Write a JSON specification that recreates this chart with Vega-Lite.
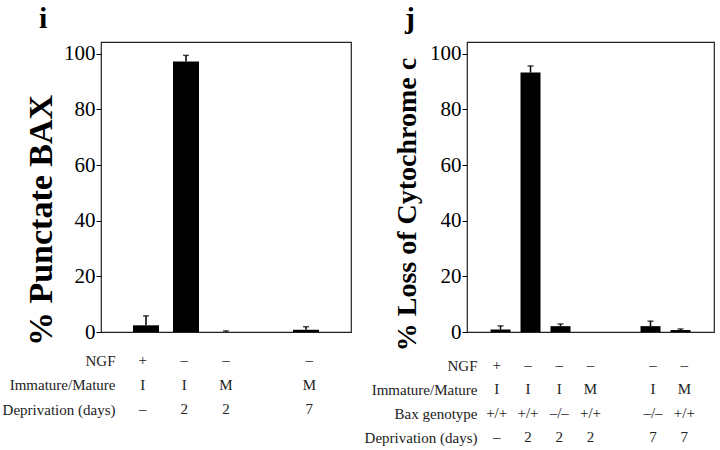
{
  "$schema": "https://vega.github.io/schema/vega-lite/v6.json",
  "padding": {"left": 2, "top": 3, "right": 0, "bottom": 0},
  "background": "white",
  "config": {
    "font": "Liberation Serif",
    "axis": {"grid": false, "labelColor": "black", "titleColor": "black", "tickColor": "black", "domain": false, "labelFont": "Liberation Serif", "titleFont": "Liberation Serif"},
    "text": {"font": "Liberation Serif"}
  },
  "spacing": 12,
  "hconcat": [
    {
      "spacing": 1,
      "vconcat": [
        {
          "width": 250,
          "height": 290,
          "view": {"stroke": "#222", "strokeWidth": 1.2},
          "title": {"text": "i", "font": "Liberation Serif", "fontSize": 30, "fontWeight": "bold", "anchor": "start", "frame": "group", "dx": -62, "offset": 8, "color": "black"},
          "data": {"values": [
            {"pos": 1, "v": 2.4, "u": 5.8},
            {"pos": 2, "v": 97.2, "u": 99.4},
            {"pos": 3, "v": 0, "u": 0.4},
            {"pos": 5, "v": 0.8, "u": 1.9}
          ]},
          "encoding": {
            "x": {"field": "pos", "type": "quantitative", "scale": {"domain": [0, 6], "nice": false, "zero": false}, "axis": null}
          },
          "layer": [
            {
              "mark": {"type": "bar", "width": 26, "color": "black"},
              "encoding": {
                "y": {"field": "v", "type": "quantitative", "scale": {"domain": [0, 104.2], "nice": false},
                  "axis": {"title": "% Punctate BAX", "titleFontSize": 34, "titleFontWeight": "bold", "titleFont": "Liberation Serif", "titlePadding": 5, "titleY": 178,
                    "values": [0, 20, 40, 60, 80, 100], "labelFont": "Liberation Serif", "labelFontSize": 21, "tickSize": 5, "labelPadding": 1}}
              }
            },
            {
              "mark": {"type": "rule", "color": "black", "strokeWidth": 1.5},
              "encoding": {"y": {"field": "v", "type": "quantitative"}, "y2": {"field": "u"}}
            },
            {
              "mark": {"type": "tick", "orient": "horizontal", "color": "black", "size": 6, "thickness": 1.5},
              "encoding": {"y": {"field": "u", "type": "quantitative"}}
            }
          ]
        },
        {
          "width": 250,
          "height": 73.5,
          "view": {"stroke": null},
          "data": {"values": [
            {"pos": 1, "row": "NGF", "t": "+"},
            {"pos": 2, "row": "NGF", "t": "–"},
            {"pos": 3, "row": "NGF", "t": "–"},
            {"pos": 5, "row": "NGF", "t": "–"},
            {"pos": 1, "row": "Immature/Mature", "t": "I"},
            {"pos": 2, "row": "Immature/Mature", "t": "I"},
            {"pos": 3, "row": "Immature/Mature", "t": "M"},
            {"pos": 5, "row": "Immature/Mature", "t": "M"},
            {"pos": 1, "row": "Deprivation (days)", "t": "–"},
            {"pos": 2, "row": "Deprivation (days)", "t": "2"},
            {"pos": 3, "row": "Deprivation (days)", "t": "2"},
            {"pos": 5, "row": "Deprivation (days)", "t": "7"}
          ]},
          "mark": {"type": "text", "font": "Liberation Serif", "fontSize": 15, "color": "#222", "baseline": "middle"},
          "encoding": {
            "x": {"field": "pos", "type": "quantitative", "scale": {"domain": [0, 6], "nice": false, "zero": false}, "axis": null},
            "y": {"field": "row", "type": "nominal", "sort": ["NGF", "Immature/Mature", "Deprivation (days)"], "scale": {"type": "point", "padding": 0.5},
              "axis": {"title": null, "ticks": false, "domain": false, "labelFontSize": 15, "labelFont": "Liberation Serif", "labelColor": "#222", "labelPadding": -14}},
            "text": {"field": "t"}
          }
        }
      ]
    },
    {
      "spacing": 1,
      "vconcat": [
        {
          "width": 247,
          "height": 290,
          "view": {"stroke": "#222", "strokeWidth": 1.2},
          "title": {"text": "j", "font": "Liberation Serif", "fontSize": 30, "fontWeight": "bold", "anchor": "start", "frame": "group", "dx": -62, "offset": 8, "color": "black"},
          "data": {"values": [
            {"pos": 1, "v": 0.9, "u": 2.2},
            {"pos": 2, "v": 93.2, "u": 95.6},
            {"pos": 3, "v": 2.1, "u": 2.9},
            {"pos": 4, "v": 0, "u": null},
            {"pos": 6, "v": 2.1, "u": 3.9},
            {"pos": 7, "v": 0.7, "u": 1.1}
          ]},
          "encoding": {
            "x": {"field": "pos", "type": "quantitative", "scale": {"domain": [0.05, 7.95], "nice": false, "zero": false}, "axis": null}
          },
          "layer": [
            {
              "mark": {"type": "bar", "width": 20, "color": "black"},
              "encoding": {
                "y": {"field": "v", "type": "quantitative", "scale": {"domain": [0, 104.2], "nice": false},
                  "axis": {"title": "% Loss of Cytochrome c", "titleFontSize": 28, "titleFontWeight": "bold", "titleFont": "Liberation Serif", "titlePadding": 8, "titleY": 162,
                    "values": [0, 20, 40, 60, 80, 100], "labelFont": "Liberation Serif", "labelFontSize": 21, "tickSize": 5, "labelPadding": 1}}
              }
            },
            {
              "mark": {"type": "rule", "color": "black", "strokeWidth": 1.5},
              "encoding": {"y": {"field": "v", "type": "quantitative"}, "y2": {"field": "u"}}
            },
            {
              "mark": {"type": "tick", "orient": "horizontal", "color": "black", "size": 6, "thickness": 1.5},
              "encoding": {"y": {"field": "u", "type": "quantitative"}}
            }
          ]
        },
        {
          "width": 247,
          "height": 96,
          "view": {"stroke": null},
          "data": {"values": [
            {"pos": 1, "row": "NGF", "t": "+"},
            {"pos": 2, "row": "NGF", "t": "–"},
            {"pos": 3, "row": "NGF", "t": "–"},
            {"pos": 4, "row": "NGF", "t": "–"},
            {"pos": 6, "row": "NGF", "t": "–"},
            {"pos": 7, "row": "NGF", "t": "–"},
            {"pos": 1, "row": "Immature/Mature", "t": "I"},
            {"pos": 2, "row": "Immature/Mature", "t": "I"},
            {"pos": 3, "row": "Immature/Mature", "t": "I"},
            {"pos": 4, "row": "Immature/Mature", "t": "M"},
            {"pos": 6, "row": "Immature/Mature", "t": "I"},
            {"pos": 7, "row": "Immature/Mature", "t": "M"},
            {"pos": 1, "row": "Bax genotype", "t": "+/+"},
            {"pos": 2, "row": "Bax genotype", "t": "+/+"},
            {"pos": 3, "row": "Bax genotype", "t": "–/–"},
            {"pos": 4, "row": "Bax genotype", "t": "+/+"},
            {"pos": 6, "row": "Bax genotype", "t": "–/–"},
            {"pos": 7, "row": "Bax genotype", "t": "+/+"},
            {"pos": 1, "row": "Deprivation (days)", "t": "–"},
            {"pos": 2, "row": "Deprivation (days)", "t": "2"},
            {"pos": 3, "row": "Deprivation (days)", "t": "2"},
            {"pos": 4, "row": "Deprivation (days)", "t": "2"},
            {"pos": 6, "row": "Deprivation (days)", "t": "7"},
            {"pos": 7, "row": "Deprivation (days)", "t": "7"}
          ]},
          "mark": {"type": "text", "font": "Liberation Serif", "fontSize": 15, "color": "#222", "baseline": "middle"},
          "encoding": {
            "x": {"field": "pos", "type": "quantitative", "scale": {"domain": [0.05, 7.95], "nice": false, "zero": false}, "axis": null},
            "y": {"field": "row", "type": "nominal", "sort": ["NGF", "Immature/Mature", "Bax genotype", "Deprivation (days)"], "scale": {"type": "point", "padding": 0.5},
              "axis": {"title": null, "ticks": false, "domain": false, "labelFontSize": 15, "labelFont": "Liberation Serif", "labelColor": "#222", "labelPadding": -10}},
            "text": {"field": "t"}
          }
        }
      ]
    }
  ]
}
